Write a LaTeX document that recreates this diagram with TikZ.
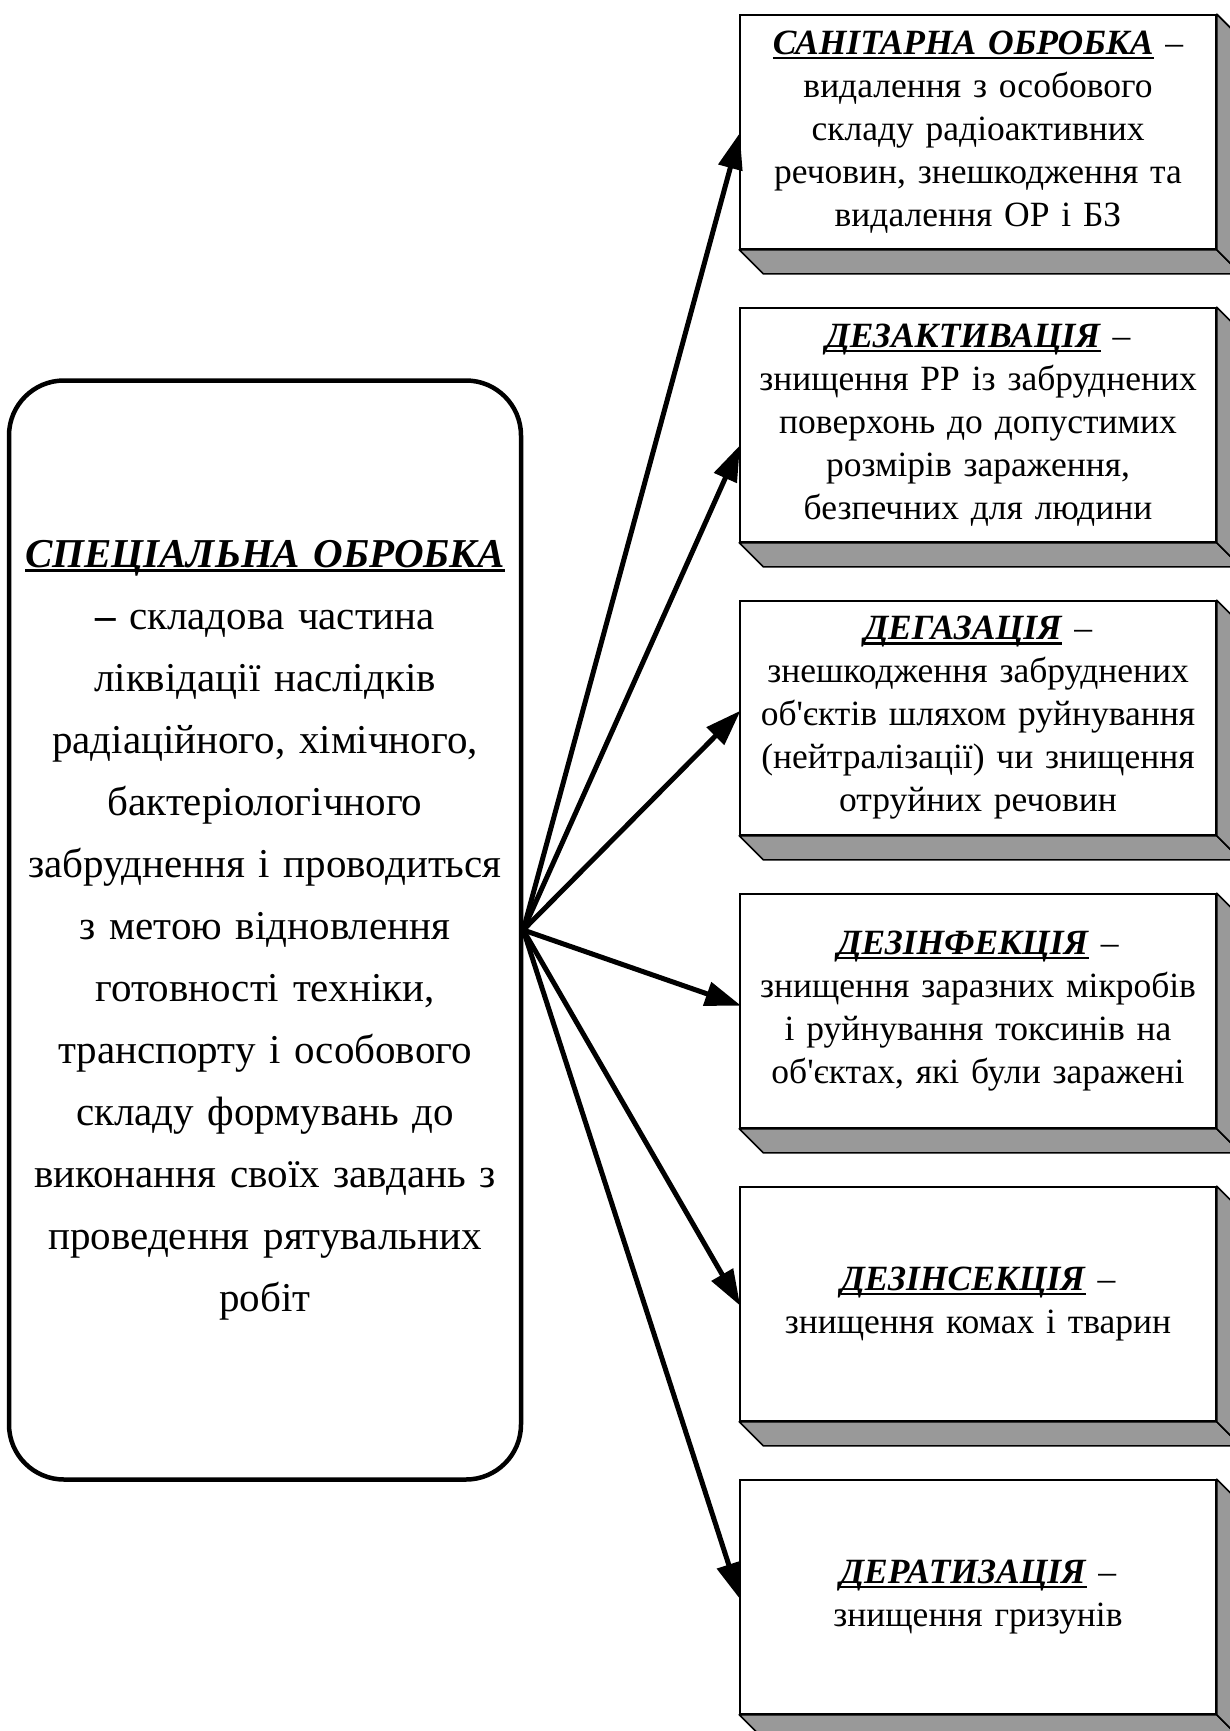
\documentclass[tikz,border=0pt]{standalone}
\usepackage{fontspec}
\setmainfont{Liberation Serif}
\newfontfamily\apfont{Liberation Serif}
\usetikzlibrary{arrows.meta,calc}
\newsavebox{\hdbox}
\newcommand{\hd}[1]{\sbox{\hdbox}{\textbf{\textit{#1}}}\leavevmode\rlap{\rule[-5pt]{\wd\hdbox}{2.8pt}}\usebox{\hdbox}}
\newcommand{\ap}{{\apfont'}}
\tikzset{
  infobox/.style={draw=black, line width=1.6pt, fill=white, minimum width=476pt, minimum height=234pt,
    text width=466pt, align=center, inner sep=0pt, font=\fontsize{35.5}{43}\selectfont},
  mainbox/.style={draw=black, line width=4.5pt, rounded corners=55pt, fill=white, minimum width=512pt, minimum height=1099pt,
    text width=506pt, align=center, inner sep=0pt, font=\fontsize{41}{62}\selectfont},
  shade3d/.style={fill=black!40, draw=black, line width=1.6pt, line join=round},
  conn/.style={line width=5pt, -{Triangle[length=36pt,width=24pt]}, shorten >=-2pt}
}
\newcommand{\boxshadow}[1]{%
  \path[shade3d] (#1.south west) -- ++(24pt,-24pt) -- ($(#1.south east)+(24pt,-24pt)$) -- (#1.south east) -- cycle;
  \path[shade3d] (#1.north east) -- ++(24pt,-24pt) -- ($(#1.south east)+(24pt,-24pt)$) -- (#1.south east) -- cycle;
}
\begin{document}
\begin{tikzpicture}[x=1pt,y=-1pt]
\useasboundingbox (0,0) rectangle (1230,1731);
\node[mainbox] (L) at (265,930) {\hd{СПЕЦІАЛЬНА ОБРОБКА}\\ \textbf{–} складова частина\\ ліквідації наслідків\\ радіаційного, хімічного,\\ бактеріологічного\\ забруднення і проводиться\\ з метою відновлення\\ готовності техніки,\\ транспорту і особового\\ складу формувань до\\ виконання своїх завдань з\\ проведення рятувальних\\ робіт};

\node[infobox] (b1) at (978,132) {\hd{САНІТАРНА ОБРОБКА} –\\ видалення з особового\\ складу радіоактивних\\ речовин, знешкодження та\\ видалення ОР і БЗ};
\node[infobox] (b2) at (978,425) {\hd{ДЕЗАКТИВАЦІЯ} –\\ знищення РР із забруднених\\ поверхонь до допустимих\\ розмірів зараження,\\ безпечних для людини};
\node[infobox] (b3) at (978,718) {\hd{ДЕГАЗАЦІЯ} –\\ знешкодження забруднених\\ об\ap єктів шляхом руйнування\\ (нейтралізації) чи знищення\\ отруйних речовин};
\node[infobox] (b4) at (978,1011) {\hd{ДЕЗІНФЕКЦІЯ} –\\ знищення заразних мікробів\\ і руйнування токсинів на\\ об\ap єктах, які були заражені};
\node[infobox] (b5) at (978,1304) {\hd{ДЕЗІНСЕКЦІЯ} –\\ знищення комах і тварин};
\node[infobox] (b6) at (978,1597) {\hd{ДЕРАТИЗАЦІЯ} –\\ знищення гризунів};

\foreach \b in {b1,b2,b3,b4,b5,b6} {\boxshadow{\b}}

\coordinate (o) at (L.east);
\draw[conn] (o) -- ([yshift=-3pt]b1.west);
\draw[conn] (o) -- ([yshift=-22pt]b2.west);
\draw[conn] (o) -- ([yshift=6pt]b3.west);
\draw[conn] (o) -- ([yshift=6pt]b4.west);
\draw[conn] (o) -- (b5.west);
\draw[conn] (o) -- (b6.west);
\end{tikzpicture}
\end{document}
